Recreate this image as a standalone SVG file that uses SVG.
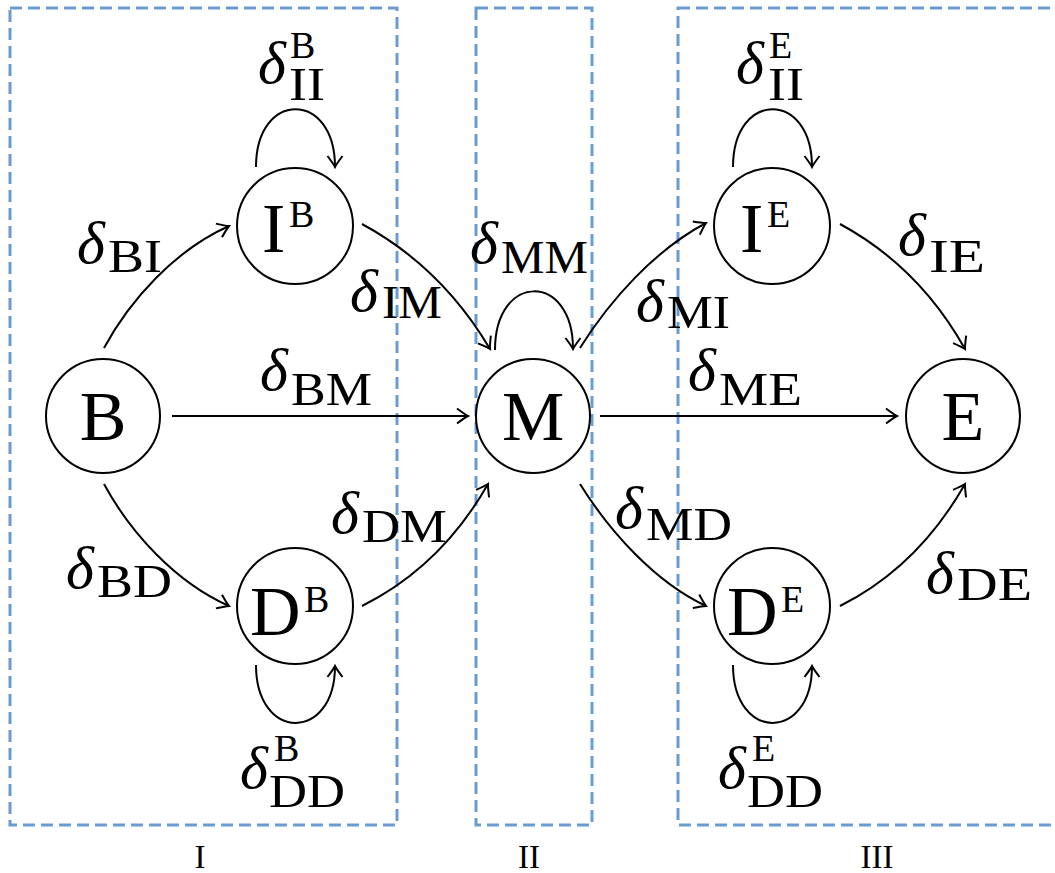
<svg xmlns="http://www.w3.org/2000/svg" width="1055" height="873" viewBox="0 0 1055 873">
<defs>
<style>
.box{fill:none;stroke:#6a9bd1;stroke-width:3;stroke-dasharray:12 6}
.node{fill:#fff;stroke:#000;stroke-width:2}
.e{fill:none;stroke:#000;stroke-width:2;marker-end:url(#arr)}
text{font-family:"Liberation Serif","Times New Roman",serif;fill:#000}
.big{font-size:70px}
.sup{font-size:38px}
.d{font-size:60px;font-style:italic}
.s{font-size:46px}
.rn{font-size:33px;text-anchor:middle}
</style>
<marker id="arr" markerUnits="userSpaceOnUse" markerWidth="24" markerHeight="24" viewBox="-12 -12 24 24" refX="0" refY="0" orient="auto">
<path d="M-11,-7.5 Q-3,-1.5 0,0 Q-3,1.5 -11,7.5" fill="none" stroke="#000" stroke-width="2"/>
</marker>
</defs>
<rect width="1055" height="873" fill="#fff"/>
<g id="regions">
<rect class="box" x="10" y="8" width="387" height="817"/>
<rect class="box" x="476" y="8" width="116" height="817"/>
<rect class="box" x="678" y="8" width="390" height="817"/>
<text class="rn" x="200" y="868">I</text>
<text class="rn" x="529" y="868">II</text>
<text class="rn" x="877" y="868">III</text>
</g>
<g id="connectors">
<path class="e" d="M104,348 C130,300 175,250 229,226"/>
<path class="e" d="M362,224 C410,250 455,290 490,349"/>
<path class="e" d="M172,416 L468,416"/>
<path class="e" d="M104,484 C130,532 175,582 229,606"/>
<path class="e" d="M362,606 C410,582 455,542 488,484"/>
<path class="e" d="M580,348 C610,300 655,250 706,223"/>
<path class="e" d="M840,224 C888,250 932,290 965,349"/>
<path class="e" d="M600,416 L897,416"/>
<path class="e" d="M580,484 C610,532 655,582 706,606"/>
<path class="e" d="M840,606 C888,582 932,542 965,484"/>
<path class="e" d="M256,167 C256,90 335,90 335,167"/>
<path class="e" d="M495,350 C495,272 573,272 573,349"/>
<path class="e" d="M256,665 C256,742 335,742 335,666"/>
<path class="e" d="M733,167 C733,90 812,90 812,167"/>
<path class="e" d="M733,665 C733,742 812,742 812,666"/>
</g>
<g id="labels">
<text class="d" x="77" y="263">δ</text><text class="s" x="108" y="272" textLength="54" lengthAdjust="spacingAndGlyphs">BI</text>
<text class="d" x="350" y="311">δ</text><text class="s" x="382" y="318" textLength="60" lengthAdjust="spacingAndGlyphs">IM</text>
<text class="d" x="470" y="263">δ</text><text class="s" x="501" y="273" textLength="87" lengthAdjust="spacingAndGlyphs">MM</text>
<text class="d" x="636" y="321">δ</text><text class="s" x="667" y="328" textLength="63" lengthAdjust="spacingAndGlyphs">MI</text>
<text class="d" x="898" y="255">δ</text><text class="s" x="929" y="272" textLength="56" lengthAdjust="spacingAndGlyphs">IE</text>
<text class="d" x="260" y="390">δ</text><text class="s" x="291" y="405" textLength="81" lengthAdjust="spacingAndGlyphs">BM</text>
<text class="d" x="688" y="390">δ</text><text class="s" x="719" y="405" textLength="83" lengthAdjust="spacingAndGlyphs">ME</text>
<text class="d" x="331" y="533">δ</text><text class="s" x="362" y="542" textLength="85" lengthAdjust="spacingAndGlyphs">DM</text>
<text class="d" x="615" y="528">δ</text><text class="s" x="646" y="540" textLength="86" lengthAdjust="spacingAndGlyphs">MD</text>
<text class="d" x="66" y="588">δ</text><text class="s" x="97" y="597" textLength="75" lengthAdjust="spacingAndGlyphs">BD</text>
<text class="d" x="926" y="593">δ</text><text class="s" x="957" y="600" textLength="75" lengthAdjust="spacingAndGlyphs">DE</text>
<text class="d" x="258" y="83">δ</text><text class="sup" x="290" y="58">B</text><text class="s" x="289" y="100" textLength="36" lengthAdjust="spacingAndGlyphs">II</text>
<text class="d" x="736" y="83">δ</text><text class="sup" x="769" y="58">E</text><text class="s" x="768" y="100" textLength="36" lengthAdjust="spacingAndGlyphs">II</text>
<text class="d" x="240" y="788">δ</text><text class="sup" x="274" y="761">B</text><text class="s" x="269" y="807" textLength="76" lengthAdjust="spacingAndGlyphs">DD</text>
<text class="d" x="718" y="788">δ</text><text class="sup" x="752" y="761">E</text><text class="s" x="747" y="807" textLength="76" lengthAdjust="spacingAndGlyphs">DD</text>
</g>
<g id="node-B"><circle class="node" cx="103" cy="416" r="57"/><text class="big" x="103" y="440" text-anchor="middle">B</text></g>
<g id="node-IB"><circle class="node" cx="295" cy="226" r="58"/><text class="big" x="262" y="252">I</text><text class="sup" x="289" y="227">B</text></g>
<g id="node-DB"><circle class="node" cx="295" cy="606" r="58"/><text class="big" x="250" y="635">D</text><text class="sup" x="304" y="612">B</text></g>
<g id="node-M"><circle class="node" cx="533" cy="416" r="57"/><text class="big" x="533" y="440" text-anchor="middle">M</text></g>
<g id="node-IE"><circle class="node" cx="772" cy="226" r="58"/><text class="big" x="740" y="252">I</text><text class="sup" x="767" y="227">E</text></g>
<g id="node-DE"><circle class="node" cx="772" cy="606" r="58"/><text class="big" x="727" y="635">D</text><text class="sup" x="781" y="612">E</text></g>
<g id="node-E"><circle class="node" cx="963" cy="416" r="57"/><text class="big" x="963" y="440" text-anchor="middle">E</text></g>
</svg>
